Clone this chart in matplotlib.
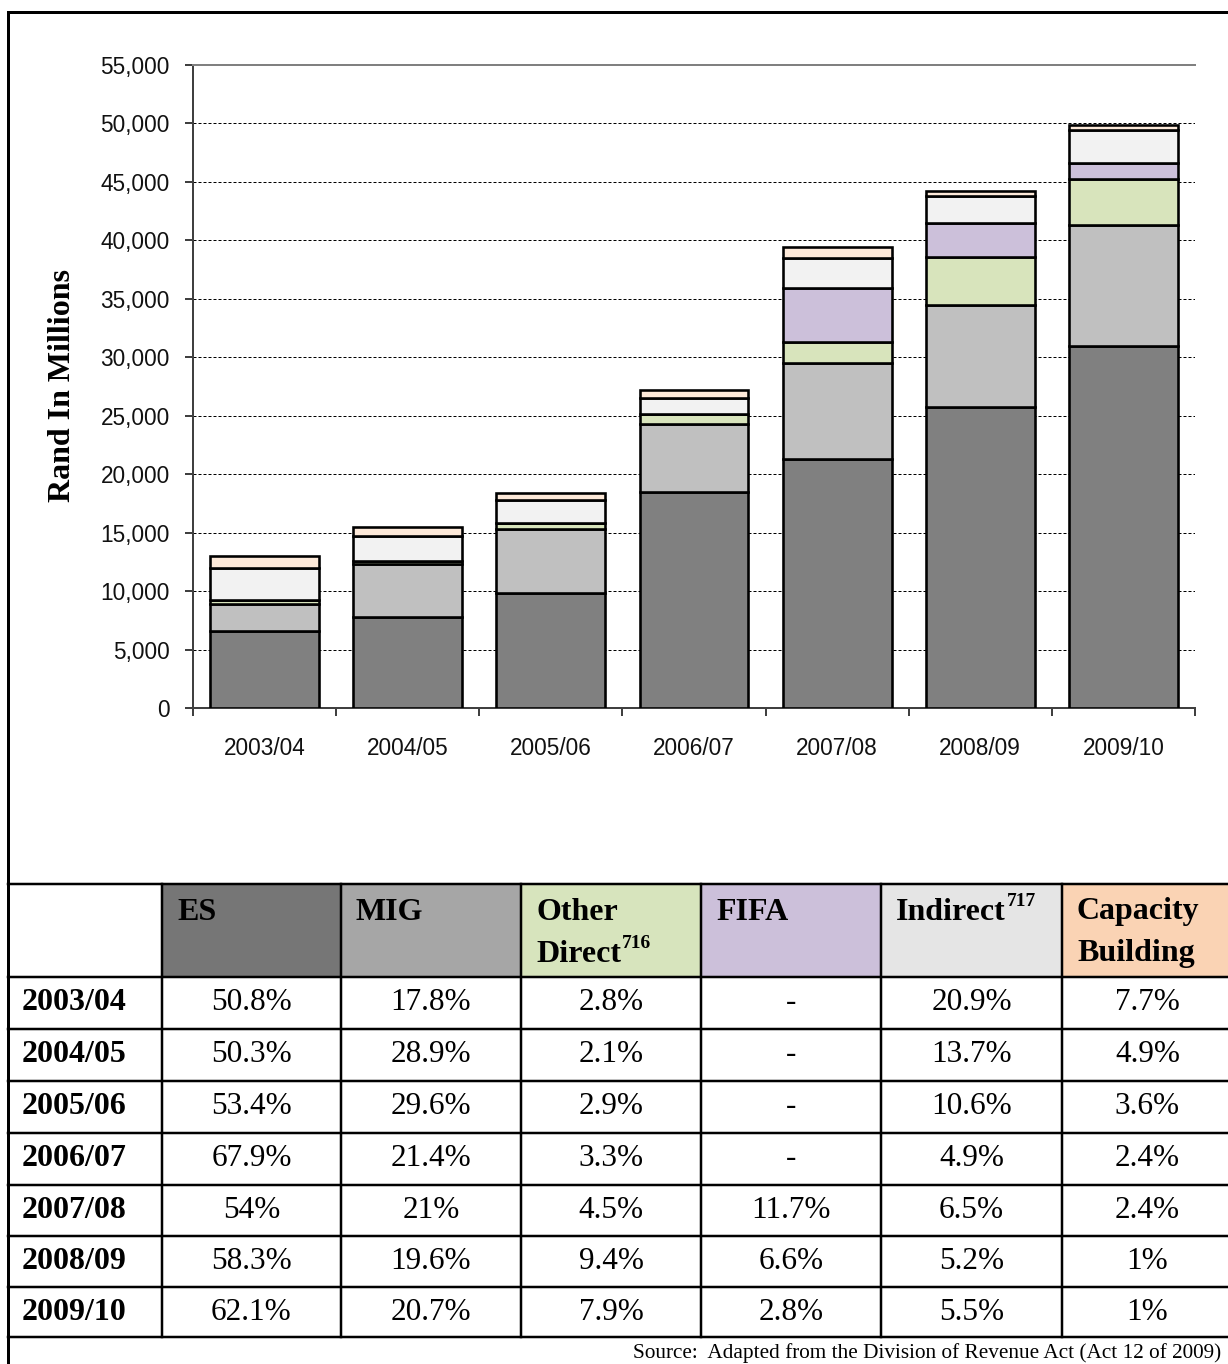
import matplotlib
matplotlib.use("Agg")
import matplotlib.pyplot as plt
from matplotlib.patches import Rectangle

# ---- data (Rand millions) ----
years = ["2003/04", "2004/05", "2005/06", "2006/07", "2007/08", "2008/09", "2009/10"]
es_vals = [6600, 7800, 9830, 18470, 21280, 25770, 30990]
mig_vals = [2310, 4480, 5450, 5820, 8270, 8660, 10330]
other_vals = [360, 330, 530, 900, 1770, 4160, 3940]
fifa_vals = [0, 0, 0, 0, 4610, 2920, 1400]
indirect_vals = [2720, 2120, 1950, 1330, 2560, 2300, 2740]
capacity_vals = [1000, 760, 660, 650, 950, 440, 500]

# ---- shares (%) shown in the table; None means no allocation ----
es_pct = [50.8, 50.3, 53.4, 67.9, 54, 58.3, 62.1]
mig_pct = [17.8, 28.9, 29.6, 21.4, 21, 19.6, 20.7]
other_pct = [2.8, 2.1, 2.9, 3.3, 4.5, 9.4, 7.9]
fifa_pct = [None, None, None, None, 11.7, 6.6, 2.8]
indirect_pct = [20.9, 13.7, 10.6, 4.9, 6.5, 5.2, 5.5]
capacity_pct = [7.7, 4.9, 3.6, 2.4, 2.4, 1, 1]

y_ticks = [0, 5000, 10000, 15000, 20000, 25000, 30000, 35000, 40000, 45000, 50000, 55000]

W, H = 1228, 1364
fig = plt.figure(figsize=(W / 100, H / 100), dpi=100)
fig.patch.set_facecolor("white")

PX = 0.72  # points per pixel at 100 dpi
SANS = ["Liberation Sans", "DejaVu Sans"]
SERIF = ["Liberation Serif", "DejaVu Serif"]

# ---------- stacked bar chart ----------
ax = fig.add_axes([193 / W, 1 - 708 / H, (1195 - 193) / W, (708 - 65) / H])
ax.set_facecolor("none")

series = [
    (es_vals, "#808080"),
    (mig_vals, "#C0C0C0"),
    (other_vals, "#D8E4BC"),
    (fifa_vals, "#CCC0DA"),
    (indirect_vals, "#F2F2F2"),
    (capacity_vals, "#FDE9D9"),
]
x = list(range(len(years)))
bottom = [0] * len(years)
for vals, col in series:
    ax.bar(x, vals, bottom=bottom, width=0.76, color=col, edgecolor="black",
           linewidth=2.6 * PX, zorder=3)
    bottom = [b + v for b, v in zip(bottom, vals)]

ax.set_xlim(-0.5, len(years) - 0.5)
ax.set_ylim(0, 55000)
ax.set_yticks(y_ticks)
ax.set_yticklabels([f"{t:,}" for t in y_ticks], fontfamily=SANS, fontsize=16.3, color="#111111")
ax.yaxis.grid(True, linestyle=(0, (3, 2)), color="black", linewidth=1 * PX, zorder=1)

ax.set_xticks(x)
ax.set_xticklabels(years, fontfamily=SANS, fontsize=16.3, color="#111111")
ax.set_xticks([i - 0.5 for i in range(len(years) + 1)], minor=True)
ax.tick_params(axis="x", which="major", length=0, pad=21)
ax.tick_params(axis="x", which="minor", length=8 * PX, width=2 * PX, color="#404040", direction="out")
ax.tick_params(axis="y", length=8 * PX, width=2 * PX, color="#404040", pad=11)

for side in ("left", "bottom"):
    ax.spines[side].set_color("#404040")
    ax.spines[side].set_linewidth(2 * PX)
ax.spines["top"].set_color("#808080")
ax.spines["top"].set_linewidth(2 * PX)
ax.spines["right"].set_visible(False)

fig.text(63 / W, 1 - 385 / H, "Rand In Millions", rotation=90, ha="center", va="center",
         fontfamily=SERIF, fontweight="bold", fontsize=23)

# ---------- frame and table (pixel coordinates) ----------
tx = fig.add_axes([0, 0, 1, 1], zorder=-1)
tx.set_xlim(0, W)
tx.set_ylim(H, 0)
tx.axis("off")

# outer frame
tx.plot([8, W + 5], [12, 12], color="black", lw=3 * PX)
tx.plot([8, 8], [12, H + 5], color="black", lw=3 * PX)

col_edges = [8, 162, 341, 521, 701, 881, 1062, W + 5]
row_edges = [884, 977, 1029, 1081, 1133, 1185, 1236, 1287, 1337]

# header lines: (text, superscript) per line
headers = [
    [("ES", None)],
    [("MIG", None)],
    [("Other", None), ("Direct", "716")],
    [("FIFA", None)],
    [("Indirect", "717")],
    [("Capacity", None), ("Building", None)],
]
header_colors = ["#767676", "#A6A6A6", "#D7E4BD", "#CCC0DA", "#E5E5E5", "#FAD3B4"]
columns = [es_pct, mig_pct, other_pct, fifa_pct, indirect_pct, capacity_pct]

for i, col in enumerate(header_colors):
    x0, x1 = col_edges[i + 1], col_edges[i + 2]
    tx.add_patch(Rectangle((x0, row_edges[0]), x1 - x0, row_edges[1] - row_edges[0],
                           facecolor=col, edgecolor="none", zorder=1))

for y in row_edges:
    tx.plot([8, W + 5], [y, y], color="black", lw=2.5 * PX, zorder=3)
for xe in col_edges[1:-1]:
    tx.plot([xe, xe], [row_edges[0], row_edges[-1]], color="black", lw=2.5 * PX, zorder=3)

for i, lines in enumerate(headers):
    x0 = col_edges[i + 1] + 15
    for k, (name, sup) in enumerate(lines):
        yc = 912 + 42 * k
        t = tx.text(x0, yc, name, ha="left", va="center", fontfamily=SERIF, fontweight="bold",
                    fontsize=23, zorder=4)
        if sup:
            tx.annotate(sup, xy=(1, 1), xycoords=t, xytext=(0.5, 3), textcoords="offset points",
                        ha="left", va="top", fontfamily=SERIF, fontweight="bold",
                        fontsize=14, zorder=4)

for r, yr in enumerate(years):
    yc = (row_edges[r + 1] + row_edges[r + 2]) / 2
    tx.text(22, yc, yr, ha="left", va="center", fontfamily=SERIF, fontweight="bold",
            fontsize=23, zorder=4)
    for c, vals in enumerate(columns):
        xc = (col_edges[c + 1] + col_edges[c + 2]) / 2
        v = vals[r]
        label = "-" if v is None else f"{v:g}%"
        tx.text(xc, yc, label, ha="center", va="center", fontfamily=SERIF, fontsize=22.5, zorder=4)

tx.text(633, 1353, "Source:  Adapted from the Division of Revenue Act (Act 12 of 2009)",
        ha="left", va="center", fontfamily=SERIF, fontsize=15.3, zorder=4)

fig.savefig("out.png", dpi=100)
